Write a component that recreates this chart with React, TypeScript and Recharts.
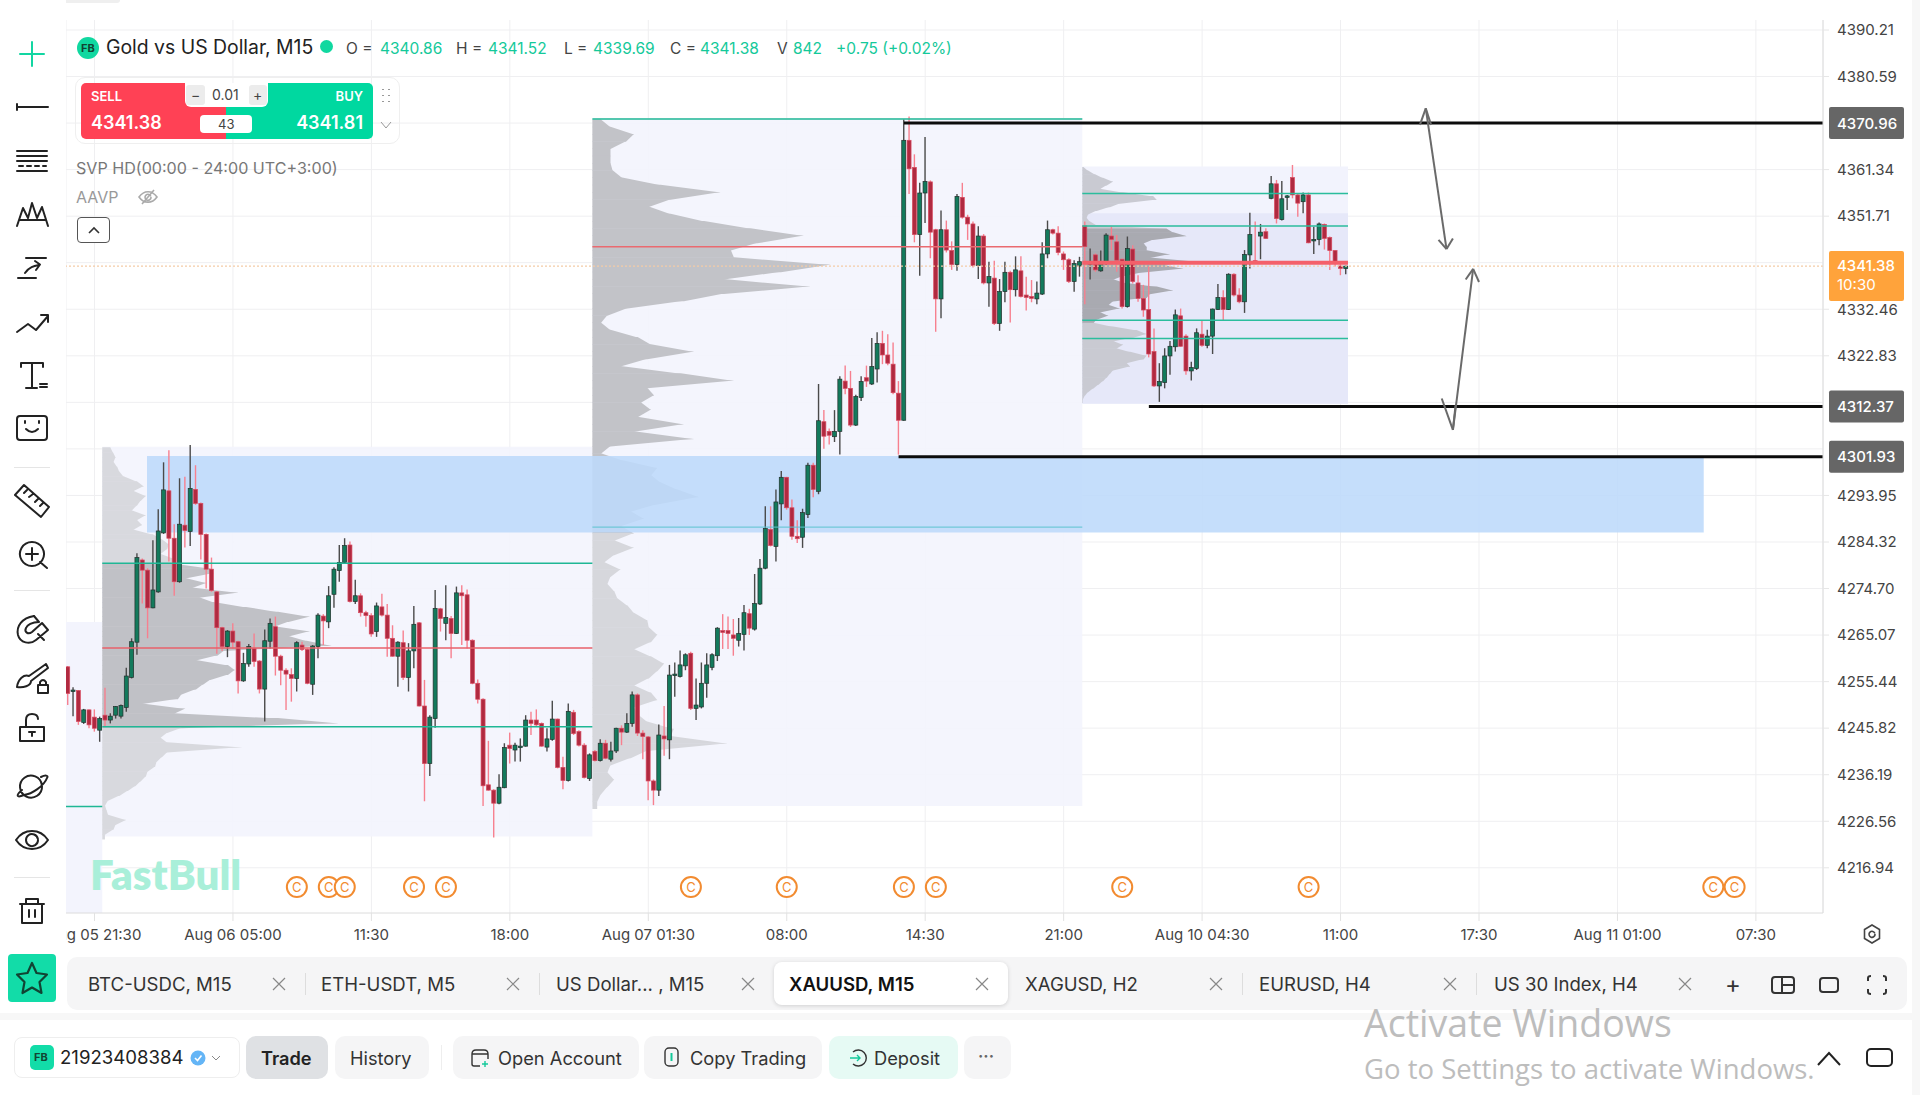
import { ComposedChart, Bar, Scatter, XAxis, YAxis, CartesianGrid, ReferenceArea, ReferenceLine } from 'recharts'

/* ── data ── */

// [open, high, low, close], one row per M15 bar
const barsAug05 = [
  [4258.5, 4258.7, 4250.6, 4253.0], [4253.4, 4254.3, 4248.3, 4253.7], [4253.6, 4253.7, 4246.5, 4247.2], [4247.0, 4249.8, 4246.7, 4249.6],
  [4249.6, 4249.7, 4245.8, 4246.5], [4248.1, 4249.7, 4245.1, 4245.8], [4245.4, 4248.2, 4243.0, 4247.8], [4248.5, 4254.2, 4246.1, 4247.5],
  [4247.5, 4248.9, 4246.8, 4248.3], [4248.5, 4250.4, 4247.8, 4250.3], [4248.3, 4250.7, 4247.8, 4250.5], [4250.1, 4258.3, 4249.2, 4256.6],
  [4256.3, 4264.4, 4256.1, 4263.7], [4263.6, 4282.0, 4261.0, 4281.1], [4280.6, 4280.9, 4271.6, 4278.5], [4278.5, 4278.9, 4264.4, 4270.7],
  [4270.7, 4284.7, 4270.6, 4274.4], [4274.0, 4291.1, 4273.8, 4286.6], [4286.2, 4300.8, 4286.0, 4295.1], [4294.9, 4303.3, 4280.3, 4285.1],
  [4285.1, 4288.0, 4273.2, 4276.1], [4276.1, 4297.5, 4275.9, 4288.0], [4287.8, 4297.8, 4283.2, 4286.7], [4286.5, 4304.4, 4283.5, 4295.4],
  [4295.2, 4300.2, 4292.0, 4292.3], [4292.3, 4292.5, 4280.7, 4285.9], [4285.9, 4286.1, 4274.7, 4278.7], [4278.7, 4281.1, 4274.0, 4274.3],
  [4274.0, 4274.2, 4261.2, 4266.6], [4266.6, 4266.8, 4261.8, 4262.7], [4262.7, 4266.1, 4260.5, 4265.9],
]
const barsAug06 = [
  [4265.9, 4267.5, 4262.3, 4263.6], [4263.7, 4263.9, 4253.0, 4255.6], [4255.6, 4261.4, 4255.4, 4259.2], [4259.1, 4263.2, 4258.5, 4262.7],
  [4262.3, 4265.4, 4258.5, 4259.6], [4259.7, 4259.9, 4253.0, 4253.9], [4253.9, 4266.2, 4247.2, 4263.9], [4263.8, 4268.5, 4262.3, 4267.5],
  [4266.8, 4268.9, 4256.7, 4260.7], [4260.7, 4261.0, 4254.7, 4257.8], [4257.8, 4258.2, 4249.6, 4257.0], [4256.9, 4258.2, 4251.3, 4256.1],
  [4256.1, 4263.8, 4253.4, 4263.5], [4263.0, 4263.7, 4261.8, 4262.1], [4262.1, 4262.3, 4254.9, 4255.1], [4254.9, 4263.0, 4252.7, 4262.8],
  [4262.7, 4269.6, 4260.3, 4269.2], [4269.0, 4269.4, 4263.0, 4268.0], [4267.8, 4275.2, 4266.5, 4273.2], [4273.5, 4279.1, 4270.7, 4278.7],
  [4278.4, 4283.7, 4276.1, 4280.1], [4280.1, 4285.1, 4279.9, 4283.6], [4283.7, 4284.4, 4271.8, 4272.0], [4272.0, 4276.5, 4271.5, 4273.2],
  [4273.2, 4273.7, 4268.9, 4269.7], [4269.7, 4270.1, 4266.8, 4269.1], [4269.1, 4269.6, 4264.7, 4265.3], [4265.8, 4271.8, 4264.7, 4271.1],
  [4270.9, 4273.6, 4268.9, 4269.2], [4269.2, 4271.5, 4260.6, 4264.4], [4264.4, 4267.1, 4260.6, 4260.7], [4260.7, 4263.8, 4254.4, 4263.6],
  [4263.5, 4266.0, 4255.8, 4256.3], [4256.3, 4263.4, 4253.4, 4261.8], [4261.8, 4271.1, 4258.2, 4267.3], [4267.6, 4267.8, 4250.3, 4250.4],
  [4250.4, 4255.8, 4230.7, 4238.5], [4238.5, 4248.5, 4235.9, 4248.1], [4247.8, 4274.4, 4245.9, 4270.6], [4270.5, 4270.7, 4265.8, 4268.5],
  [4267.5, 4275.4, 4264.0, 4268.7], [4268.5, 4269.0, 4260.3, 4265.4], [4265.4, 4275.1, 4265.3, 4273.8], [4273.8, 4275.4, 4263.0, 4273.2],
  [4273.4, 4274.5, 4262.3, 4264.0], [4264.0, 4264.2, 4254.9, 4255.1], [4255.1, 4255.9, 4250.9, 4251.8], [4251.8, 4252.0, 4229.7, 4233.9],
  [4234.1, 4243.2, 4232.9, 4233.0], [4233.0, 4233.2, 4223.2, 4230.3], [4230.3, 4236.3, 4230.1, 4233.6], [4233.5, 4242.7, 4233.4, 4241.8],
  [4242.3, 4244.9, 4238.5, 4241.6], [4241.3, 4242.8, 4238.9, 4242.3], [4242.0, 4243.7, 4238.9, 4242.1], [4242.1, 4248.5, 4242.0, 4247.5],
  [4247.5, 4249.2, 4244.4, 4246.8], [4247.5, 4249.7, 4246.1, 4246.5], [4246.8, 4247.0, 4242.0, 4242.1], [4241.9, 4245.8, 4241.0, 4243.6],
  [4243.5, 4251.5, 4243.2, 4247.7], [4247.7, 4247.8, 4237.5, 4237.7], [4237.7, 4239.9, 4233.2, 4235.0], [4235.0, 4250.9, 4234.8, 4249.3],
  [4249.1, 4249.6, 4244.4, 4244.7], [4245.1, 4245.4, 4242.0, 4242.3], [4242.3, 4242.7, 4235.4, 4235.6], [4235.4, 4240.6, 4234.9, 4240.3],
]
const barsAug07 = [
  [4241.0, 4241.3, 4238.9, 4239.1], [4239.1, 4243.5, 4238.9, 4242.7], [4242.7, 4243.4, 4239.4, 4239.6], [4239.4, 4243.0, 4238.9, 4241.1],
  [4241.1, 4245.9, 4240.7, 4245.8], [4245.8, 4246.4, 4242.3, 4245.0], [4245.0, 4248.9, 4244.8, 4246.8], [4246.8, 4253.4, 4246.1, 4252.7],
  [4252.7, 4253.0, 4244.2, 4244.8], [4244.8, 4245.4, 4239.4, 4244.1], [4244.0, 4244.2, 4230.9, 4234.9], [4234.9, 4235.2, 4229.9, 4233.0],
  [4233.0, 4246.6, 4231.8, 4244.4], [4244.2, 4250.4, 4240.1, 4243.6], [4243.4, 4258.9, 4239.4, 4256.8], [4256.8, 4259.4, 4252.3, 4257.0],
  [4256.5, 4261.9, 4256.3, 4258.9], [4258.7, 4261.3, 4257.8, 4261.0], [4261.3, 4261.6, 4249.6, 4249.9], [4249.9, 4256.1, 4247.5, 4250.6],
  [4250.2, 4259.4, 4249.9, 4255.1], [4255.1, 4261.3, 4252.1, 4258.9], [4258.4, 4261.3, 4257.8, 4261.0], [4260.8, 4266.7, 4259.7, 4266.5],
  [4266.0, 4269.4, 4262.2, 4265.6], [4266.0, 4268.9, 4262.2, 4265.4], [4265.1, 4268.4, 4260.8, 4264.4], [4264.0, 4268.6, 4262.7, 4265.4],
  [4265.2, 4271.3, 4261.9, 4269.7], [4269.5, 4270.5, 4265.1, 4266.5], [4266.3, 4277.7, 4266.0, 4271.6], [4271.5, 4280.8, 4271.3, 4278.9],
  [4278.9, 4291.7, 4278.7, 4287.1], [4286.9, 4291.7, 4283.4, 4283.6], [4283.4, 4295.2, 4280.3, 4292.6], [4292.2, 4299.0, 4288.8, 4297.7],
  [4297.7, 4297.8, 4291.0, 4291.4], [4291.4, 4293.1, 4284.8, 4285.5], [4285.5, 4288.8, 4284.1, 4285.0], [4285.3, 4291.2, 4283.1, 4290.4],
  [4290.0, 4300.7, 4289.3, 4300.2], [4300.2, 4300.7, 4293.6, 4295.2], [4294.8, 4317.0, 4294.2, 4309.4], [4309.2, 4311.6, 4303.6, 4306.2],
  [4307.2, 4307.8, 4304.5, 4306.4], [4306.1, 4311.6, 4305.0, 4307.2], [4307.2, 4318.6, 4302.4, 4318.0], [4317.6, 4320.8, 4314.9, 4316.1],
  [4316.1, 4319.7, 4308.1, 4308.5], [4308.5, 4314.8, 4308.3, 4314.4], [4314.2, 4318.6, 4313.5, 4317.5], [4318.3, 4320.8, 4316.4, 4317.6],
  [4317.0, 4326.5, 4316.8, 4320.6], [4320.1, 4327.7, 4317.3, 4325.4], [4325.4, 4328.0, 4321.1, 4323.0], [4323.0, 4327.3, 4320.9, 4321.3],
  [4321.1, 4325.6, 4314.9, 4315.2], [4315.1, 4317.6, 4302.4, 4309.5], [4309.5, 4371.7, 4309.4, 4367.4], [4367.4, 4372.3, 4356.3, 4361.5],
  [4361.8, 4364.5, 4346.3, 4347.9], [4347.9, 4358.6, 4339.4, 4356.5], [4356.5, 4368.1, 4350.3, 4358.9], [4358.8, 4359.1, 4343.0, 4348.4],
  [4348.9, 4349.1, 4327.8, 4334.6], [4334.6, 4352.9, 4330.6, 4348.9], [4348.9, 4350.8, 4344.2, 4344.7], [4344.6, 4346.5, 4340.6, 4341.7],
  [4341.7, 4356.3, 4340.4, 4355.8], [4355.6, 4358.6, 4351.2, 4351.5], [4351.5, 4352.0, 4346.8, 4350.1], [4350.1, 4350.6, 4341.1, 4341.5],
  [4341.5, 4349.6, 4338.7, 4347.6], [4347.6, 4348.0, 4337.6, 4337.9], [4337.9, 4342.3, 4333.0, 4339.2], [4338.9, 4342.5, 4329.2, 4329.5],
  [4329.5, 4338.7, 4328.0, 4336.1], [4336.1, 4342.3, 4333.9, 4340.1], [4340.1, 4340.4, 4329.7, 4336.5], [4336.5, 4343.4, 4335.1, 4340.6],
  [4340.4, 4343.4, 4334.9, 4335.1], [4335.4, 4339.2, 4332.2, 4334.9], [4335.1, 4338.5, 4333.9, 4334.7], [4334.6, 4338.2, 4333.5, 4335.8],
  [4335.6, 4346.3, 4335.4, 4343.9], [4343.9, 4350.8, 4343.0, 4348.9], [4348.9, 4349.1, 4347.9, 4348.2], [4348.2, 4349.6, 4343.6, 4344.2],
  [4343.9, 4344.4, 4340.6, 4342.7], [4342.7, 4343.0, 4337.9, 4338.2], [4338.2, 4342.6, 4336.1, 4341.9], [4341.4, 4343.3, 4339.2, 4342.3],
]
const barsAug10 = [
  [4349.7, 4350.6, 4333.5, 4345.4], [4341.8, 4345.0, 4338.6, 4342.1], [4343.7, 4344.0, 4340.2, 4340.6], [4340.4, 4344.6, 4340.2, 4342.1],
  [4341.9, 4348.2, 4341.6, 4347.8], [4347.6, 4349.5, 4344.7, 4346.9], [4346.4, 4347.8, 4340.2, 4342.6], [4342.8, 4343.0, 4332.6, 4333.0],
  [4333.0, 4347.5, 4332.8, 4345.0], [4344.9, 4345.7, 4337.8, 4338.2], [4337.9, 4339.5, 4334.0, 4334.7], [4334.7, 4337.5, 4330.9, 4332.3],
  [4332.4, 4341.3, 4322.5, 4323.2], [4323.7, 4328.5, 4316.4, 4316.6], [4316.6, 4321.3, 4313.3, 4317.5], [4317.3, 4324.4, 4316.1, 4322.8],
  [4322.8, 4325.9, 4318.9, 4324.8], [4324.7, 4332.4, 4323.7, 4331.3], [4331.1, 4332.6, 4324.7, 4324.8], [4326.9, 4327.3, 4318.9, 4319.7],
  [4319.7, 4321.6, 4317.7, 4320.4], [4320.2, 4328.5, 4319.9, 4327.6], [4327.3, 4330.1, 4324.7, 4325.0], [4325.0, 4328.2, 4324.4, 4326.9],
  [4326.9, 4332.6, 4323.2, 4332.5], [4332.4, 4337.7, 4332.3, 4334.9], [4334.9, 4336.4, 4330.2, 4332.4], [4332.4, 4339.9, 4332.3, 4339.7],
  [4339.7, 4339.9, 4335.1, 4335.4], [4335.4, 4336.8, 4333.7, 4334.0], [4334.0, 4344.7, 4331.7, 4343.8], [4343.7, 4352.4, 4340.9, 4347.9],
  [4342.5, 4350.6, 4341.9, 4341.9], [4347.6, 4350.1, 4342.8, 4348.4], [4348.5, 4349.2, 4347.0, 4347.1], [4355.4, 4360.0, 4355.2, 4358.4],
  [4358.4, 4359.2, 4350.2, 4351.2], [4351.0, 4359.0, 4350.8, 4355.3], [4355.6, 4356.1, 4353.0, 4355.9], [4359.7, 4362.3, 4355.4, 4356.1],
  [4356.1, 4356.4, 4351.6, 4354.4], [4354.7, 4356.6, 4352.3, 4356.1], [4356.1, 4356.6, 4346.1, 4346.2], [4346.6, 4349.5, 4343.9, 4346.9],
  [4346.9, 4350.4, 4345.7, 4350.1], [4350.0, 4350.2, 4344.8, 4347.1], [4347.3, 4347.5, 4340.6, 4344.6], [4344.6, 4344.7, 4341.3, 4341.9],
  [4341.4, 4341.9, 4339.5, 4340.9], [4340.86, 4341.52, 4339.69, 4341.38],
]

// volume profiles, row widths counted in bar slots
const profileAug06 = [
  1.5, 2.0, 2.5, 2.1, 2.8, 3.2, 4.0, 6.5, 7.8, 5.8, 8.2, 7.2, 6.5, 5.5, 8.2, 6.5, 7.5, 5.8, 9.5, 11.2, 12.5, 12.2, 10.9, 13.5, 12.9, 20.3, 20.9,
  15.6, 19.6, 16.9, 25.6, 18.2, 20.9, 27.0, 33.0, 39.0, 35.0, 32.3, 39.0, 35.0, 38.4, 43.1, 22.9, 21.6, 17.6, 23.6, 24.9, 23.6, 20.3, 18.9, 17.6,
  14.9, 14.2, 7.5, 15.6, 13.5, 33.0, 44.4, 14.9, 12.2, 10.9, 12.2, 26.3, 12.2, 11.2, 10.2, 9.9, 8.5, 8.2, 7.2, 6.2, 4.8, 3.2, 1.1, 0.5, 0.8, 1.1,
  4.5, 2.5, 2.1, 0.5,
]
const profileAug07 = [
  1.6, 3.4, 7.8, 6.3, 3.4, 3.4, 3.4, 3.8, 5.6, 12.8, 24.1, 14.7, 10.6, 14.7, 21.0, 29.7, 39.7, 31.0, 26.0, 26.6, 44.8, 35.4, 24.7, 41.0, 24.7, 17.2,
  6.6, 2.8, 1.6, 3.4, 8.5, 11.0, 19.1, 10.3, 5.3, 16.6, 26.6, 10.3, 11.6, 9.1, 11.0, 8.5, 17.2, 7.8, 19.1, 3.4, 1.6, 5.9, 12.2, 11.0, 12.8, 16.0,
  20.0, 12.2, 7.2, 9.7, 5.3, 7.8, 4.1, 7.8, 4.1, 2.2, 5.3, 3.4, 2.8, 4.1, 4.7, 6.6, 7.8, 10.3, 10.6, 12.2, 11.0, 7.8, 11.0, 13.5, 12.2, 10.6, 7.8,
  11.0, 12.2, 7.8, 8.5, 10.3, 15.3, 14.7, 25.4, 10.3, 7.2, 3.4, 2.8, 4.1, 2.8, 1.6, 0.9,
]
const profileAug10 = [
  0.2, 1.1, 2.4, 3.9, 5.8, 4.6, 3.3, 7.7, 13.3, 14.0, 7.1, 5.2, 2.7, 1.1, 0.8, 1.4, 2.7, 15.8, 17.1, 19.6, 13.3, 11.5, 12.1, 12.1, 16.5, 12.7, 21.5,
  15.2, 19.0, 11.5, 7.7, 5.8, 8.3, 14.0, 17.1, 12.7, 12.1, 5.8, 4.9, 7.1, 3.3, 4.9, 2.7, 2.1, 5.8, 10.2, 12.1, 9.6, 5.8, 7.7, 6.4, 9.0, 12.1, 11.5,
  8.3, 9.0, 5.8, 5.2, 4.6, 3.9, 3.0, 2.1, 1.1, 0.5, 0.1,
]

const priceTicks = [4390.21, 4380.59, 4361.34, 4351.71, 4332.46, 4322.83, 4293.95, 4284.32, 4274.7, 4265.07, 4255.44, 4245.82, 4236.19, 4226.56, 4216.94]
const gridPrices = [4390.21, 4380.59, 4370.96, 4361.34, 4351.71, 4342.09, 4332.46, 4322.83, 4313.2, 4303.58, 4293.95, 4284.32, 4274.7, 4265.07, 4255.44, 4245.82, 4236.19, 4226.56, 4216.94]
const timeTicks = [0, 26, 52, 78, 104, 130, 156, 182, 208, 234, 260, 286, 312]
const timeLabels = ['Aug 05 21:30', 'Aug 06 05:00', '11:30', '18:00', 'Aug 07 01:30', '08:00', '14:30', '21:00', 'Aug 10 04:30', '11:00', '17:30', 'Aug 11 01:00', '07:30']
const calendarBars = [38, 44, 47, 60, 66, 112, 130, 152, 158, 193, 228, 304, 308]
const calendarPrice = 4212.96

const xMin = -5.352
const xMax = 324.6
const yMin = 4207.59
const yMax = 4392.28

const tagLevels = [4370.96, 4312.37, 4301.93]
const levelStarts = [152, 198, 151]
const lastPrice = 4341.38

// arrows drawn on the chart: each stroke is [bar, price, bar, price]
const arrowStrokes = [
  [250.0, 4374.0, 253.9, 4344.9], [248.9, 4370.6, 250.0, 4374.0], [251.0, 4370.6, 250.0, 4374.0],
  [252.4, 4346.8, 253.9, 4344.9], [255.1, 4347.1, 253.9, 4344.9],
  [255.1, 4307.5, 258.9, 4340.8], [257.5, 4338.6, 258.9, 4340.8], [260.0, 4338.1, 258.9, 4340.8],
  [253.0, 4314.0, 255.1, 4307.5], [255.6, 4312.6, 255.1, 4307.5],
]

// session lines: [fromBar, toBar, price, colour, width]
const sessionLines = [
  [-5.352, 1.46, 4229.6, '#1fb795', 1.5],
  [1.46, 93.5, 4279.9, '#1fb795', 1.5],
  [1.46, 93.5, 4262.4, '#e8606a', 1.5],
  [1.46, 93.5, 4246.1, '#1fb795', 1.5],
  [93.5, 185.5, 4371.8, '#1fb795', 1.5],
  [93.5, 185.5, 4345.4, '#ea6a70', 1.5],
  [93.5, 185.5, 4287.4, '#5cc3cf', 1],
  [185.5, 235.4, 4356.4, '#2bbd9d', 1.5],
  [185.5, 235.4, 4349.7, '#2bbd9d', 1.5],
  [185.5, 235.4, 4342.1, '#f4606a', 4],
  [185.5, 235.4, 4330.2, '#2bbd9d', 1.5],
  [185.5, 235.4, 4326.4, '#2bbd9d', 1.5],
]

const candles = [...barsAug05, ...barsAug06, ...barsAug07, ...barsAug10].map((b, i) => ({
  n: i - 5, open: b[0], high: b[1], low: b[2], close: b[3],
}))
const calendarPoints = calendarBars.map((n) => ({ n, price: calendarPrice }))

function profileRows(vols: number[], fromBar: number, topPrice: number, step: number, vah: number, val: number) {
  return vols.map((v, i) => {
    const y2 = topPrice - i * step
    const next = i + 1 < vols.length ? vols[i + 1] : v
    return { x1: fromBar, x2: fromBar + v, y1: y2 - step, y2, ratio: next / v, inside: y2 <= vah && y2 >= val }
  })
}

/* ── chart shapes ── */

function Candle(props: any) {
  const { x, y, width, height, payload } = props
  const { open, high, low, close } = payload
  const up = close >= open
  const at = (v: number) => y + ((high - v) / (high - low)) * Math.abs(height)
  const cx = x + width / 2
  const top = at(Math.max(open, close))
  const bottom = at(Math.min(open, close))
  return (
    <g>
      <line x1={cx} x2={cx} y1={y} y2={y + Math.abs(height)} stroke={up ? '#4a4a4a' : '#f7808f'} strokeWidth={1.4} />
      <rect
        x={cx - 2} y={top} width={4} height={Math.max(bottom - top, 1.5)}
        fill={up ? '#137a5c' : '#b02a40'}
        stroke={up ? '#23302c' : '#d84a60'}
        strokeWidth={0.7}
      />
    </g>
  )
}

// one profile row, slanted towards the width of the row below it
function ProfileRow(props: any) {
  const { x, y, width, height, fill, ratio } = props
  const pts = [[x, y], [x + width, y], [x + width * ratio, y + height + 0.5], [x, y + height + 0.5]]
  return <polygon points={pts.map((p) => p.join(',')).join(' ')} fill={fill} />
}

function CalendarMark(props: any) {
  const { cx, cy } = props
  return (
    <g>
      <circle cx={cx} cy={cy} r={10} fill="#fff" stroke="#f28b30" strokeWidth={2} />
      <text x={cx} y={cy + 4.5} textAnchor="middle" fontSize={13} fill="#f28b30" fontFamily="Inter">C</text>
    </g>
  )
}

function GreyTag(props: any) {
  const { viewBox, price } = props
  const x = viewBox.x + viewBox.width + 6
  return (
    <g>
      <rect x={x} y={viewBox.y - 16} width={75} height={32} rx={2} fill="#666" />
      <text x={x + 8} y={viewBox.y + 5.5} fontSize={15} fontWeight={500} fill="#fff" fontFamily="Inter">{price.toFixed(2)}</text>
    </g>
  )
}

function LastTag(props: any) {
  const { viewBox } = props
  const x = viewBox.x + viewBox.width + 6
  return (
    <g>
      <rect x={x} y={viewBox.y - 15} width={75} height={50} rx={2} fill="#ffa33b" />
      <text x={x + 8} y={viewBox.y + 5} fontSize={15} fontWeight={500} fill="#fff" fontFamily="Inter">{lastPrice.toFixed(2)}</text>
      <text x={x + 8} y={viewBox.y + 24} fontSize={15} fill="#fff" fontFamily="Inter">10:30</text>
    </g>
  )
}

/* ── chart ── */

function PriceChart() {
  const rowsA = profileRows(profileAug06, 1.46, 4303.9, 1, 4280.0, 4246.0)
  const rowsB = profileRows(profileAug07, 93.5, 4371.7, 1.5, 4372, 4287.4)
  const rowsC = profileRows(profileAug10, 185.5, 4361.9, 0.75, 4349.7, 4330.2)

  return (
    <ComposedChart width={1920} height={960} data={candles} margin={{ top: 20, right: 0, bottom: 0, left: 66 }}>
      <CartesianGrid stroke="#efeff1" horizontalValues={gridPrices} />
      <XAxis
        dataKey="n"
        type="number"
        domain={[xMin, xMax]}
        ticks={timeTicks}
        interval={0}
        height={47}
        allowDataOverflow
        tickFormatter={(v: number) => timeLabels[timeTicks.indexOf(v)]}
        tick={{ fill: '#444', fontSize: 15, fontFamily: 'Inter' }}
        tickLine={{ stroke: '#e2e2e2' }}
        tickSize={8}
        tickMargin={8}
        axisLine={{ stroke: '#dcdcdc' }}
      />
      <YAxis
        orientation="right"
        type="number"
        domain={[yMin, yMax]}
        ticks={priceTicks}
        interval={0}
        width={97}
        allowDataOverflow
        tickFormatter={(v: number) => v.toFixed(2)}
        tick={{ fill: '#444', fontSize: 15, fontFamily: 'Inter', textAnchor: 'start' }}
        tickLine={{ stroke: '#e6e6e6' }}
        tickSize={6}
        tickMargin={8}
        axisLine={{ stroke: '#dcdcdc' }}
      />

      <ReferenceArea x1={xMin} x2={1.46} y1={yMin} y2={4267.8} fill="#f3f4fd" fillOpacity={1} stroke="none" />
      <ReferenceArea x1={1.46} x2={93.5} y1={4223.4} y2={4304} fill="#f3f4fd" fillOpacity={0.9} stroke="none" />
      <ReferenceArea x1={93.5} x2={185.5} y1={4229.7} y2={4372} fill="#f3f4fd" fillOpacity={0.9} stroke="none" />
      <ReferenceArea x1={185.5} x2={235.4} y1={4312.9} y2={4362} fill="#f2f3fd" fillOpacity={1} stroke="none" />
      <ReferenceArea x1={185.5} x2={235.4} y1={4312.9} y2={4352.3} fill="#e6e8f9" fillOpacity={1} stroke="none" />

      {rowsA.map((r, i) => (
        <ReferenceArea key={'a' + i} x1={r.x1} x2={r.x2} y1={r.y1} y2={r.y2} fill={r.inside ? '#c0c1c6' : '#d8d9de'} stroke="none" shape={<ProfileRow ratio={r.ratio} />} />
      ))}
      {rowsB.map((r, i) => (
        <ReferenceArea key={'b' + i} x1={r.x1} x2={r.x2} y1={r.y1} y2={r.y2} fill={r.inside ? '#c2c3c8' : '#d6d7dc'} stroke="none" shape={<ProfileRow ratio={r.ratio} />} />
      ))}
      {rowsC.map((r, i) => (
        <ReferenceArea key={'c' + i} x1={r.x1} x2={r.x2} y1={r.y1} y2={r.y2} fill={r.inside ? '#a9aab1' : '#c9cad2'} stroke="none" shape={<ProfileRow ratio={r.ratio} />} />
      ))}

      <ReferenceArea x1={9.86} x2={302.2} y1={4286.28} y2={4302.1} fill="#bdd9fa" fillOpacity={0.88} stroke="none" />

      {sessionLines.map((l, i) => (
        <ReferenceLine
          key={'s' + i}
          segment={[{ x: l[0], y: l[2] }, { x: l[1], y: l[2] }]}
          stroke={l[3] as string}
          strokeWidth={l[4] as number}
        />
      ))}

      <ReferenceLine y={lastPrice} stroke="#f4cba6" strokeWidth={1.2} strokeDasharray="2 2" label={<LastTag />} />

      <Bar dataKey={(d: any) => [d.low, d.high]} barSize={5} shape={<Candle />} isAnimationActive={false} />

      {tagLevels.map((p, i) => (
        <ReferenceLine
          key={'lvl' + i}
          segment={[{ x: levelStarts[i], y: p }, { x: xMax, y: p }]}
          stroke="#0c0c0c"
          strokeWidth={3}
        />
      ))}
      {tagLevels.map((p, i) => (
        <ReferenceLine key={'tag' + i} y={p} stroke="none" label={<GreyTag price={p} />} />
      ))}

      {arrowStrokes.map((s, i) => (
        <ReferenceLine
          key={'arr' + i}
          segment={[{ x: s[0], y: s[1] }, { x: s[2], y: s[3] }]}
          stroke="#6a6a6a"
          strokeWidth={2}
        />
      ))}

      <Scatter data={calendarPoints} dataKey="price" shape={<CalendarMark />} isAnimationActive={false} />
    </ComposedChart>
  )
}

/* ── app chrome ── */

const legendParts = [
  { x: 346, text: 'O =', c: '#444' }, { x: 380, text: '4340.86', c: '#14c99a' },
  { x: 456, text: 'H =', c: '#444' }, { x: 488, text: '4341.52', c: '#14c99a' },
  { x: 564, text: 'L =', c: '#444' }, { x: 593, text: '4339.69', c: '#14c99a' },
  { x: 670, text: 'C =', c: '#444' }, { x: 700, text: '4341.38', c: '#14c99a' },
  { x: 777, text: 'V', c: '#444' }, { x: 793, text: '842', c: '#14c99a' },
  { x: 836, text: '+0.75 (+0.02%)', c: '#14c99a' },
]
const tabs = [
  { x: 88, close: 279, text: 'BTC-USDC, M15' },
  { x: 321, close: 513, text: 'ETH-USDT, M5' },
  { x: 556, close: 748, text: 'US Dollar... , M15' },
  { x: 789, close: 982, text: 'XAUUSD, M15', active: true },
  { x: 1025, close: 1216, text: 'XAGUSD, H2' },
  { x: 1259, close: 1450, text: 'EURUSD, H4' },
  { x: 1494, close: 1685, text: 'US 30 Index, H4' },
]
const tabSeparators = [305, 539, 1242, 1476]

function Abs({ x, y, w, h, style, children }: any) {
  return <div style={{ position: 'absolute', left: x, top: y, width: w, height: h, ...style }}>{children}</div>
}

function Txt({ x, cy, size = 16, color = '#333', weight = 400, right, children, family }: any) {
  return (
    <div
      style={{
        position: 'absolute', top: cy - size, lineHeight: size * 2 + 'px', fontSize: size, color, fontWeight: weight,
        whiteSpace: 'nowrap', fontFamily: family || 'Inter',
        ...(right !== undefined ? { right: 1920 - right } : { left: x }),
      }}
    >
      {children}
    </div>
  )
}

function Icon({ cy, d, color = '#222' }: any) {
  return (
    <svg style={{ position: 'absolute', left: 12, top: cy - 20 }} width={40} height={40} viewBox="0 0 40 40" fill="none" stroke={color} strokeWidth={2} strokeLinecap="round" strokeLinejoin="round">
      <path d={d} />
    </svg>
  )
}

function Toolbar() {
  return (
    <Abs x={0} y={0} w={66} h={950} style={{ background: '#fff' }}>
      <Icon cy={54} color="#12d6a2" d="M20 8V32M8 20H32" />
      <Icon cy={107} d="M5 20H36M5 17V23" />
      <Icon cy={161} d="M5 10H35M5 15H35M5 20H35M5 30H35M7 25H11M15 25H19M23 25H27M31 25H34" />
      <Icon cy={214} d="M5 32L11 14L16 24L20 9L25 24L30 13L36 32M8 26H33" />
      <Icon cy={266} d="M6 32H24M14 12H34M13 27C17 21 22 20 27 19M23 15L28 18.5L24 24" />
      <Icon cy={322} d="M5 30L16 22L24 28L36 14M29 13H36V20" />
      <Icon cy={375} d="M9 8H31M9 8V12M31 8V12M20 8V33M14 33H25M28 29H35M28 32H35" />
      <Icon cy={428} d="M8 8H32Q35 8 35 11V29Q35 32 32 32H8Q5 32 5 29V11Q5 8 8 8ZM14 21Q20 27 26 21M13 13V15M27 13V15" />
      <Abs x={14} y={467} w={36} h={1} style={{ background: '#e5e5e5' }} />
      <Icon cy={501} d="M3 14L12 4L37 26L29 36ZM12 12L15 9M17 16L21 13M23 21L26 18M28 25L31 22" />
      <Icon cy={554} d="M20 8A12 12 0 1 1 19.9 8ZM14 20H26M20 14V26M28 28L35 34" />
      <Abs x={14} y={590} w={36} h={1} style={{ background: '#e5e5e5' }} />
      <Icon cy={630} d="M22 6C10 8 4 16 6 25C8 33 18 35 24 30L36 20L30 13L20 22C16 25 12 22 14 18C15 15 20 12 27 12ZM27 12L22 6M26 24L32 30" />
      <Icon cy={677} d="M34 7L17 19C12 17 6 22 5 30C11 31 19 29 19 24L36 11ZM26 28H36V36H26ZM28 28V25Q31 21 34 25V28" />
      <Icon cy={727} d="M8 20H32V34H8ZM14 20V13Q14 7 20 7Q26 7 26 12M17 25H23M20 25V29" />
      <Icon cy={786} d="M30 20A11 11 0 1 1 29.9 19ZM10 24C3 30 5 32 12 29C20 28 32 20 35 12C37 9 33 9 29 11" />
      <Icon cy={840} d="M4 20C12 8 28 8 36 20C28 32 12 32 4 20ZM26 20A6 6 0 1 1 25.9 19" />
      <Abs x={14} y={877} w={36} h={1} style={{ background: '#e5e5e5' }} />
      <Icon cy={909} d="M8 15H32M14 15V10H26V15M10 15V34H30V15M17 21V28M23 21V28" />
    </Abs>
  )
}

function TradePanel() {
  return (
    <>
      <Abs x={75} y={77} w={325} h={67} style={{ border: '1px solid #efefef', borderRadius: 10, boxSizing: 'border-box' }} />
      <Abs x={81} y={83} w={145} h={56} style={{ background: '#ff4155', borderRadius: '5px 0 0 5px' }} />
      <Abs x={226} y={83} w={147} h={56} style={{ background: '#00d8a0', borderRadius: '0 5px 5px 0' }} />
      <Abs x={185} y={83} w={83} h={24} style={{ background: '#fff', borderRadius: '0 0 6px 6px' }} />
      <Abs x={186} y={85} w={19} h={20} style={{ background: '#ececec', borderRadius: 3 }} />
      <Abs x={249} y={85} w={18} h={20} style={{ background: '#ececec', borderRadius: 3 }} />
      <Txt x={191} cy={95} size={14} color="#444">−</Txt>
      <Txt x={253} cy={95} size={14} color="#444">+</Txt>
      <Txt x={212} cy={95} size={14} color="#444">0.01</Txt>
      <Abs x={200} y={115} w={52} h={18} style={{ background: '#fff', borderRadius: 4 }} />
      <Txt x={218} cy={124} size={13} color="#444">43</Txt>
      <Txt x={91} cy={96} size={13} weight={600} color="#fff">SELL</Txt>
      <Txt right={363} cy={96} size={13} weight={600} color="#fff">BUY</Txt>
      <Txt x={91} cy={123} size={18} weight={600} color="#fff">4341.38</Txt>
      <Txt right={363} cy={123} size={18} weight={600} color="#fff">4341.81</Txt>
      <svg style={{ position: 'absolute', left: 380, top: 86 }} width={12} height={50} fill="none" stroke="#999">
        <path d="M3 3V4M9 3V4M3 9V10M9 9V10M3 15V16M9 15V16" strokeWidth={2} />
        <path d="M1 36L6 42L11 36" />
      </svg>
      <Txt x={76} cy={168} size={16.1} color="#777">SVP HD(00:00 - 24:00 UTC+3:00)</Txt>
      <Txt x={76} cy={197} size={16} color="#999">AAVP</Txt>
      <svg style={{ position: 'absolute', left: 138, top: 187 }} width={20} height={20} fill="none" stroke="#aaa" strokeWidth={1.6}>
        <path d="M1 10C6 3 14 3 19 10C14 17 6 17 1 10ZM13 10A3 3 0 1 1 12.9 9.5M4 17L16 3" />
      </svg>
      <Abs x={77} y={217} w={33} h={26} style={{ border: '1px solid #555', borderRadius: 4, boxSizing: 'border-box', background: '#fff' }} />
      <svg style={{ position: 'absolute', left: 87, top: 225 }} width={14} height={10} fill="none" stroke="#333" strokeWidth={1.6}>
        <path d="M2 8L7 3L12 8" />
      </svg>
    </>
  )
}

function BottomBars() {
  return (
    <>
      <Abs x={0} y={950} w={1920} h={145} style={{ background: '#fff' }} />
      <Abs x={0} y={1013} w={1920} h={7} style={{ background: '#f7f7f7' }} />
      <Abs x={1912} y={0} w={8} h={1095} style={{ background: '#f7f7f7' }} />
      <Abs x={8} y={954} w={48} h={48} style={{ background: '#12dca8', borderRadius: 4 }} />
      <svg style={{ position: 'absolute', left: 14, top: 960 }} width={36} height={36} fill="none" stroke="#143" strokeWidth={2.2} strokeLinejoin="round">
        <path d="M18 3L22.5 13L33 14.5L25.5 22L27.5 33L18 27.5L8.5 33L10.5 22L3 14.5L13.5 13Z" />
      </svg>
      <Abs x={67} y={957} w={1840} h={53} style={{ background: '#f5f5f6', borderRadius: 10 }} />
      <Abs x={774} y={962} w={234} h={43} style={{ background: '#fff', borderRadius: 8, boxShadow: '0 1px 4px rgba(0,0,0,0.15)' }} />
      {tabSeparators.map((x) => (
        <Abs key={x} x={x} y={973} w={1} h={22} style={{ background: '#ddd' }} />
      ))}
      {tabs.map((t) => (
        <span key={t.text}>
          <Txt x={t.x} cy={985} size={18.6} color={t.active ? '#111' : '#333'} weight={t.active ? 600 : 400}>{t.text}</Txt>
          <svg style={{ position: 'absolute', left: t.close - 7, top: 977 }} width={14} height={14} stroke="#888" strokeWidth={1.2}>
            <path d="M1 1L13 13M13 1L1 13" />
          </svg>
        </span>
      ))}
      <Txt x={1725} cy={985} size={24} color="#333">+</Txt>
      <svg style={{ position: 'absolute', left: 1770, top: 972 }} width={130} height={26} fill="none" stroke="#333" strokeWidth={2}>
        <rect x={2} y={5} width={22} height={16} rx={3} />
        <path d="M12 5V21M12 13H24" />
        <rect x={50} y={6} width={18} height={14} rx={3} />
        <path d="M98 9V6Q98 4 101 4M113 4Q116 4 116 6V9M116 17V20Q116 22 113 22M101 22Q98 22 98 20V17" />
      </svg>
      <svg style={{ position: 'absolute', left: 1860, top: 922 }} width={24} height={24} fill="none" stroke="#444" strokeWidth={1.6}>
        <path d="M12 3L19.5 7.5V16.5L12 21L4.5 16.5V7.5ZM15 12A3 3 0 1 1 14.9 11.5" />
      </svg>

      <Abs x={14} y={1037} w={226} h={41} style={{ border: '1px solid #eee', borderRadius: 8, boxSizing: 'border-box' }} />
      <Abs x={30} y={1045} w={24} h={25} style={{ background: '#12dca8', borderRadius: 5 }} />
      <Txt x={34} cy={1057} size={11} weight={700} color="#143">FB</Txt>
      <Txt x={60} cy={1058} size={18.6} color="#222">21923408384</Txt>
      <svg style={{ position: 'absolute', left: 190, top: 1049 }} width={34} height={18} fill="none">
        <circle cx={8} cy={9} r={7.5} fill="#64b5f6" />
        <path d="M5 9L7.5 11.5L11.5 6.5" stroke="#fff" strokeWidth={1.6} />
        <path d="M22 7L26 11L30 7" stroke="#888" />
      </svg>
      <Abs x={246} y={1036} w={82} h={43} style={{ background: '#dfe1e4', borderRadius: 10 }} />
      <Txt x={261} cy={1058} size={18.2} weight={600} color="#222">Trade</Txt>
      <Abs x={335} y={1036} w={94} h={43} style={{ background: '#f5f5f6', borderRadius: 10 }} />
      <Txt x={350} cy={1058} size={18.2} color="#333">History</Txt>
      <Abs x={441} y={1045} w={1} h={25} style={{ background: '#eee' }} />
      <Abs x={453} y={1036} w={186} h={43} style={{ background: '#f5f5f6', borderRadius: 10 }} />
      <svg style={{ position: 'absolute', left: 470, top: 1048 }} width={20} height={20} fill="none" stroke="#333" strokeWidth={1.4}>
        <path d="M2 6Q2 2 6 2H14Q18 2 18 6V11M2 6H18M2 6V16Q2 18 4 18H10" />
        <path d="M15 13V19M12 16H18" stroke="#14c99a" />
      </svg>
      <Txt x={498} cy={1058} size={18.3} color="#333">Open Account</Txt>
      <Abs x={644} y={1036} w={178} h={43} style={{ background: '#f5f5f6', borderRadius: 10 }} />
      <svg style={{ position: 'absolute', left: 662, top: 1046 }} width={20} height={24} fill="none" stroke="#333" strokeWidth={1.4}>
        <rect x={3} y={2} width={13} height={18} rx={4} />
        <path d="M9.5 7V15" stroke="#14c99a" strokeWidth={2} />
      </svg>
      <Txt x={690} cy={1058} size={18.3} color="#333">Copy Trading</Txt>
      <Abs x={829} y={1036} w={129} h={43} style={{ background: '#e6faf4', borderRadius: 10 }} />
      <svg style={{ position: 'absolute', left: 848, top: 1048 }} width={20} height={20} fill="none" stroke="#333" strokeWidth={1.4}>
        <path d="M5 4A8 8 0 1 1 5 16" />
        <path d="M2 10H12M9 7L12 10L9 13" stroke="#14c99a" />
      </svg>
      <Txt x={874} cy={1058} size={18.3} color="#333">Deposit</Txt>
      <Abs x={964} y={1036} w={47} h={43} style={{ background: '#f5f5f6', borderRadius: 10 }} />
      <Txt x={978} cy={1056} size={16} weight={700} color="#666">···</Txt>

      <Txt x={1364} cy={1022} size={37.5} color="#bdbdbd" family="Open Sans">Activate Windows</Txt>
      <Txt x={1364} cy={1068} size={27.5} color="#bdbdbd" family="Open Sans">Go to Settings to activate Windows.</Txt>
      <svg style={{ position: 'absolute', left: 1815, top: 1045 }} width={84} height={28} fill="none" stroke="#222" strokeWidth={2}>
        <path d="M3 20L14 8L25 20" />
        <rect x={52} y={4} width={25} height={17} rx={4} />
      </svg>
    </>
  )
}

export default function App() {
  return (
    <div style={{ position: 'absolute', left: 0, top: 0, width: 1920, height: 1095, overflow: 'hidden', background: '#fff', fontFamily: 'Inter' }}>
      <Abs x={0} y={0} w={120} h={3} style={{ background: '#efefef', borderRadius: '0 0 6px 6px' }} />
      <div style={{ position: 'absolute', left: 0, top: 0 }}>
        <PriceChart />
      </div>
      <Toolbar />
      <BottomBars />

      <Abs x={77} y={37} w={22} h={22} style={{ background: '#10d8a0', borderRadius: 11 }} />
      <Txt x={81} cy={48} size={11} weight={700} color="#143">FB</Txt>
      <Txt x={106} cy={47} size={19.4} color="#222">Gold vs US Dollar, M15</Txt>
      <Abs x={320} y={40} w={13} h={13} style={{ background: '#10d8a0', borderRadius: 7 }} />
      {legendParts.map((p) => (
        <Txt key={p.x} x={p.x} cy={48} size={15.5} color={p.c}>{p.text}</Txt>
      ))}
      <TradePanel />

      <Txt x={90} cy={874} size={42} weight={800} color="#a9efd9" family="Lato">FastBull</Txt>
    </div>
  )
}
